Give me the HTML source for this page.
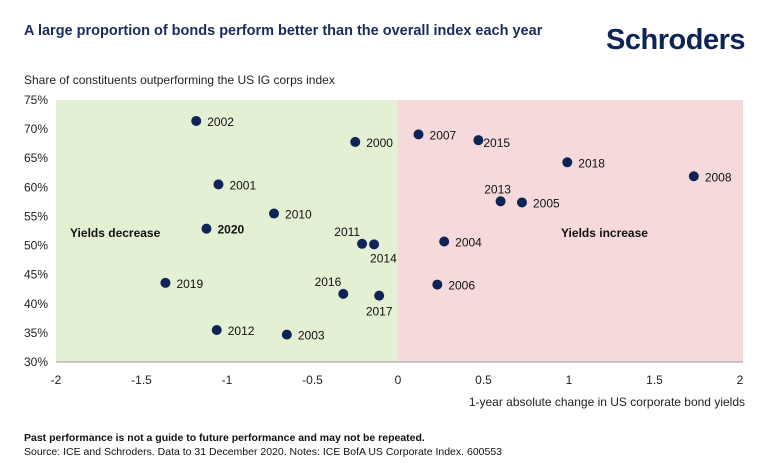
<!DOCTYPE html>
<html><head><meta charset="utf-8"><style>
body{margin:0;background:#fff;font-family:"Liberation Sans",sans-serif;}
svg{display:block}
</style></head><body>
<svg width="770" height="476" viewBox="0 0 770 476">
<text x="24" y="35" font-size="14.5" font-weight="bold" fill="#1a2b5c">A large proportion of bonds perform better than the overall index each year</text>
<text x="745" y="49" text-anchor="end" font-size="29" font-weight="bold" fill="#0f2456" letter-spacing="-0.5">Schroders</text>
<text x="24" y="84" font-size="12" fill="#222">Share of constituents outperforming the US IG corps index</text>
<g id="plot"></g>
<text x="745" y="406" text-anchor="end" font-size="12" fill="#222">1-year absolute change in US corporate bond yields</text>
<text x="24" y="441" font-size="10.5" font-weight="bold" fill="#111">Past performance is not a guide to future performance and may not be repeated.</text>
<text x="24" y="455" font-size="10.5" fill="#111">Source: ICE and Schroders. Data to 31 December 2020. Notes: ICE BofA US Corporate Index. 600553</text>
</svg>
<script>
const years=["2002","2000","2001","2010","2020","2011","2014","2019","2016","2017","2012","2003","2007","2015","2018","2008","2013","2005","2004","2006"];
const xVals=[-1.18,-0.25,-1.05,-0.725,-1.12,-0.21,-0.14,-1.36,-0.32,-0.11,-1.06,-0.65,0.12,0.47,0.99,1.73,0.6,0.725,0.27,0.23];
const yVals=[71.4,67.8,60.5,55.5,52.9,50.3,50.2,43.6,41.7,41.4,35.5,34.7,69.1,68.1,64.3,61.9,57.6,57.4,50.7,43.3];
const xTicks=[-2,-1.5,-1,-0.5,0,0.5,1,1.5,2];
const yTicks=[30,35,40,45,50,55,60,65,70,75];
const labelPos=["r","r","r","r","r","tl","br","r","tl","b","r","r","r","rc","r","r","t","r","r","r"];
const L=56,R=740,T=100,B=362;
const xs=v=>L+(v+2)/4*(R-L);
const ys=v=>B-(v-30)/45*(B-T);
const NS="http://www.w3.org/2000/svg";
const g=document.getElementById('plot');
function mk(t,a){const e=document.createElementNS(NS,t);for(const k in a)e.setAttribute(k,a[k]);g.appendChild(e);return e;}
let e=mk('rect',{x:xs(-2),y:T,width:xs(0)-xs(-2),height:B-T,fill:'#e3f0d4'});


e=mk('rect',{x:xs(0),y:T,width:R+3-xs(0),height:B-T,fill:'#f6d9da'});


e=mk('line',{x1:L,x2:R+3,y1:B,y2:B,stroke:'#999','stroke-width':1});


yTicks.forEach(v=>{const t=mk('text',{x:24,y:ys(v)+4,'font-size':12,fill:'#222'});t.textContent=v+'%';

});
xTicks.forEach(v=>{const t=mk('text',{x:xs(v),y:384,'font-size':12,fill:'#222','text-anchor':'middle'});t.textContent=String(v);

});
e=mk('text',{x:70,y:237,'font-size':12,'font-weight':'bold',fill:'#111'});e.textContent='Yields decrease';


e=mk('text',{x:561,y:237,'font-size':12,'font-weight':'bold',fill:'#111'});e.textContent='Yields increase';


years.forEach((y,i)=>{
 const cx=xs(xVals[i]),cy=ys(yVals[i]);
 const c=mk('circle',{cx:cx,cy:cy,r:5,fill:'#0f2456'});
 
 
 let tx=cx+11,ty=cy+5,anc='start';
 const p=labelPos[i];
 if(p==='tl'){tx=cx-2;ty=cy-8;anc='end';}
 if(p==='br'){tx=cx-4;ty=cy+18;}
 if(p==='b'){tx=cx;ty=cy+20;anc='middle';}
 if(p==='t'){tx=cx-3;ty=cy-8;anc='middle';}
 if(p==='rc'){tx=cx+5;ty=cy+7;}
 const t=mk('text',{x:tx,y:ty,'font-size':12,fill:'#111','text-anchor':anc});
 if(y==='2020')t.setAttribute('font-weight','bold');
 t.textContent=y;
 
 
});
</script>
</body></html>
